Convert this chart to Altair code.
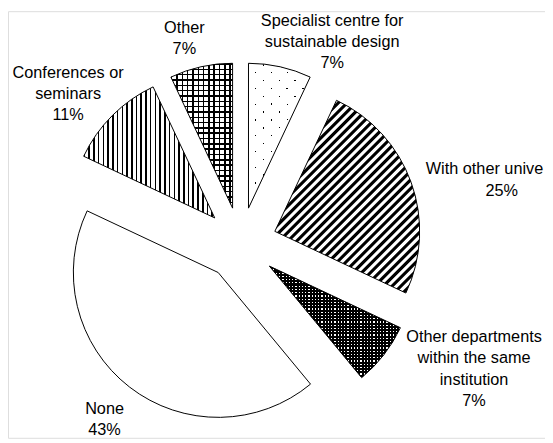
import math
import altair as alt
import pandas as pd

# ---------------- data ----------------
categories = [
    "Specialist centre for sustainable design",
    "With other universities",
    "Other departments within the same institution",
    "None",
    "Conferences or seminars",
    "Other",
]
values = [7, 25, 7, 43, 11, 7]
label_lines = [
    ["Specialist centre for", "sustainable design"],
    ["With other unive"],
    ["Other departments", "within the same", "institution"],
    ["None"],
    ["Conferences or", "seminars"],
    ["Other"],
]

# ---------------- layout / style ----------------
CX, CY, R, EXPLODE = 236, 236, 147, 37
FONT = "Liberation Sans"
FS = 16.5
LH = 21.5
W_SVG, H_SVG = 545, 433
# label anchors (svg px): x, first baseline, align
label_anchor = [
    (329, 15, "center"),
    (424, 165.5, "left"),
    (473, 336, "center"),
    (98, 408.5, "center"),
    (61, 67.5, "center"),
    (179, 22, "center"),
]
pct_anchor_with_other = (501, 188)

BLACK, WHITE = "#000000", "#ffffff"
TB, TW = "rgba(0,0,0,0)", "rgba(255,255,255,0)"


def wedge_box(a0, a1, r):
    pts = [(0.0, 0.0)]
    angs = [a0, a1] + [k * math.pi / 2 for k in range(5) if a0 < k * math.pi / 2 < a1]
    for a in angs:
        pts.append((r * math.sin(a), -r * math.cos(a)))
    xs, ys = zip(*pts)
    return max(xs) - min(xs), max(ys) - min(ys)


def stripes(w, h, angle_deg, period, unit_stops):
    a = math.radians(angle_deg)
    c, s = math.cos(a), math.sin(a)
    corners = [(0, 0), (w, 0), (0, h), (w, h)]
    proj = [x * c + y * s for x, y in corners]
    i0 = min(range(4), key=lambda i: proj[i])
    s0 = proj[i0]
    S = max(proj) - s0
    x0, y0 = corners[i0]
    M = w * w * c * c + h * h * s * s
    k = S / M
    u1, v1 = x0 / w, y0 / h
    u2, v2 = u1 + k * w * c, v1 + k * h * s
    stops = []
    n = int(math.ceil(S / period)) + 1
    last = 0.0
    for i in range(n):
        for f, col in unit_stops:
            off = (i + f) * period / S
            if off > 1:
                break
            off = max(off, last)
            stops.append({"offset": round(off, 5), "color": col})
            last = off
    return {"gradient": "linear", "x1": round(u1, 5), "y1": round(v1, 5),
            "x2": round(u2, 5), "y2": round(v2, 5), "stops": stops}


def hard(line_col, gap_col, lw, p):
    f = lw / p
    return [(0, line_col), (f, line_col), (f, gap_col), (1, gap_col)]


# slice boxes (for pattern geometry)
boxes = []
cum = 0
for v in values:
    a0 = 2 * math.pi * cum / 100
    cum += v
    a1 = 2 * math.pi * cum / 100
    boxes.append(wedge_box(a0, a1, R))


def fills_for(i):
    w, h = boxes[i]
    if i == 0:  # sparse staggered dots
        p = 11.3
        return [BLACK,
                stripes(w, h, 45, p, hard(TW, WHITE, 1.2, p)),
                stripes(w, h, 135, p, hard(TW, WHITE, 1.2, p))]
    if i == 1:  # bold diagonal stripes
        soft = [(0, WHITE), (0.2, WHITE), (0.35, BLACK), (0.7, BLACK), (0.85, WHITE), (1, WHITE)]
        return [stripes(w, h, 45, 6.3, soft)]
    if i == 2:  # dense dark dotted
        p = 3.3
        return [WHITE,
                stripes(w, h, 0, p, hard(TB, BLACK, 1.2, p)),
                stripes(w, h, 90, p, hard(TB, BLACK, 1.2, p))]
    if i == 3:
        return [WHITE]
    if i == 4:  # vertical stripes
        p = 4.8
        return [stripes(w, h, 0, p, hard(BLACK, WHITE, 1.6, p))]
    # grid
    p = 5.4
    return [WHITE,
            stripes(w, h, 0, p, hard(BLACK, TB, 1.5, p)),
            stripes(w, h, 90, p, hard(BLACK, TB, 1.5, p))]


df = pd.DataFrame({"category": categories, "value": values, "order": list(range(len(values)))})

base = (
    alt.Chart(df)
    .transform_window(cum="sum(value)", sort=[alt.SortField("order")], frame=[None, 0])
    .transform_calculate(
        t0="datum.cum - datum.value",
        mid="PI * (2 * datum.cum - datum.value) / 100",
    )
    .transform_calculate(
        px=f"{CX} + {EXPLODE} * sin(datum.mid)",
        py=f"{CY} - {EXPLODE} * cos(datum.mid)",
    )
)

enc = dict(
    theta=alt.Theta("t0:Q", scale=alt.Scale(domain=[0, 100])),
    theta2=alt.Theta2("cum:Q"),
    x=alt.X("px:Q", scale=None),
    y=alt.Y("py:Q", scale=None),
)

layers = []
for i, cat in enumerate(categories):
    for fill in fills_for(i):
        layers.append(
            base.transform_filter(alt.datum.category == cat)
            .mark_arc(radius=R, fill=fill, strokeWidth=0)
            .encode(**enc)
        )

layers.append(base.mark_arc(radius=R, filled=False, stroke=BLACK, strokeWidth=1).encode(**enc))

# labels
rows = []
for i, cat in enumerate(categories):
    x, y, al = label_anchor[i]
    if al == "left":
        rows.append({"lines": label_lines[i], "lx": x, "ly": y, "al": "left"})
        px, py = pct_anchor_with_other
        rows.append({"lines": [f"{values[i]}%"], "lx": px, "ly": py, "al": "center"})
    else:
        rows.append({"lines": label_lines[i] + [f"{values[i]}%"], "lx": x, "ly": y, "al": "center"})
ldf = pd.DataFrame(rows)

for al in ["center", "left"]:
    layers.append(
        alt.Chart(ldf)
        .transform_filter(alt.datum.al == al)
        .mark_text(align=al, baseline="alphabetic", font=FONT, fontSize=FS,
                   lineHeight=LH, color=BLACK)
        .encode(x=alt.X("lx:Q", scale=None), y=alt.Y("ly:Q", scale=None), text=alt.Text("lines"))
    )

chart = (
    alt.layer(*layers)
    .properties(width=W_SVG, height=H_SVG, autosize=alt.AutoSizeParams(type="none"), padding=0)
    .configure_view(stroke=None)
    .configure(background="white")
)

chart.save("out.html", embed_options={"renderer": "svg", "actions": False})
